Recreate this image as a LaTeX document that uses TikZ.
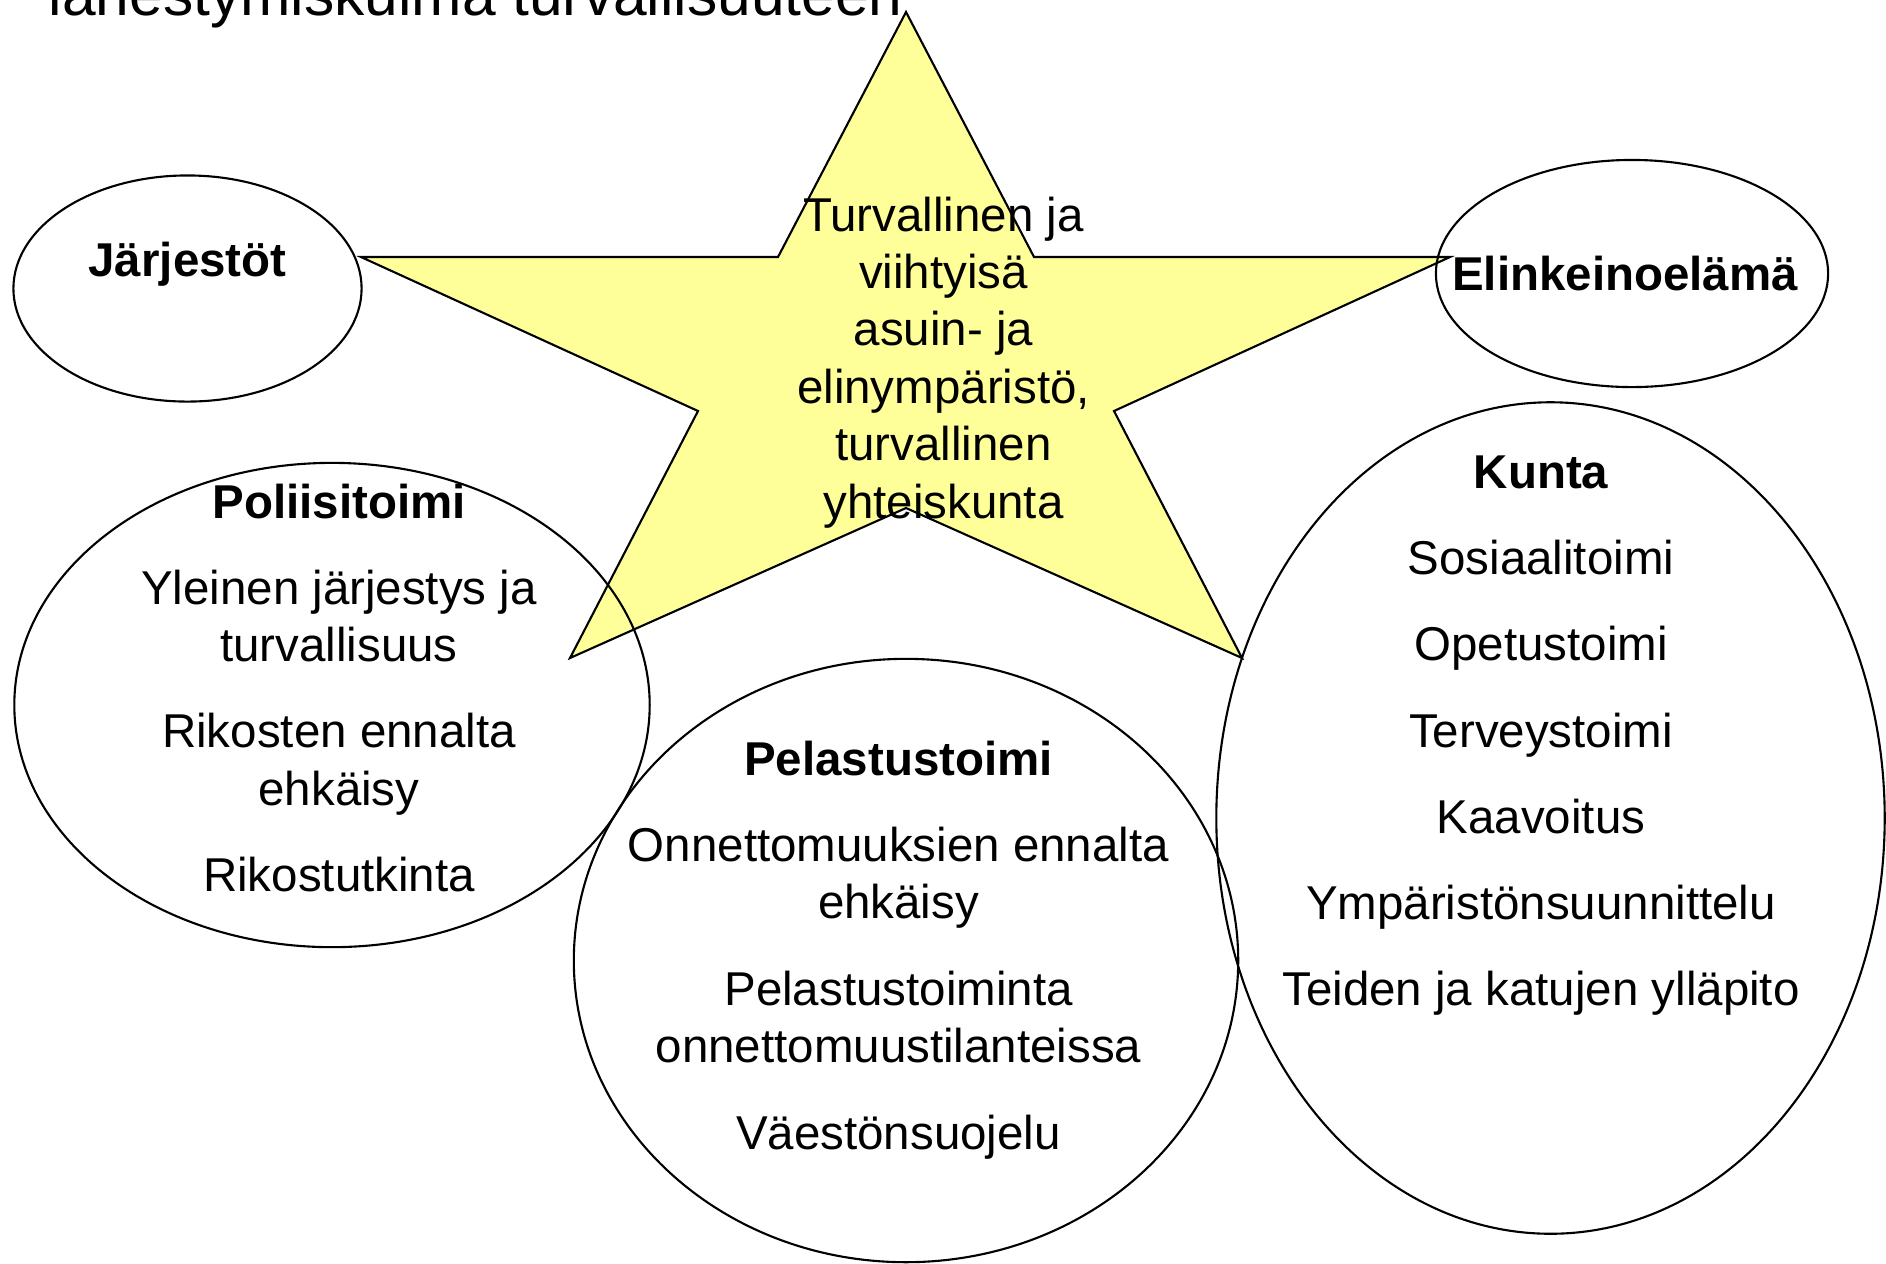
\documentclass[tikz,border=0pt]{standalone}
\usepackage{fontspec}
\setmainfont{Liberation Sans}
\usetikzlibrary{shapes.geometric}
\definecolor{starfill}{RGB}{255,255,153}
\tikzset{
  groupellipse/.style={
    ellipse,
    draw=black, line width=0.6pt,
    inner sep=0pt},
  itemtext/.style={anchor=base, inner sep=0pt,
    font=\fontsize{13.5}{16}\selectfont},
  headtext/.style={anchor=base, inner sep=0pt,
    font=\fontsize{13.5}{16}\selectfont\bfseries},
  titletext/.style={anchor=base west, inner sep=0pt,
    font=\fontsize{17.2}{20}\selectfont},
}

\begin{document}
\begin{tikzpicture}[
    x=0.01cm, y=-0.01cm,
    star line/.style={draw=black, line width=0.6pt, fill=starfill},
    ]
    \useasboundingbox (0,0) rectangle (1886,1263);
    \clip (0,0) rectangle (1886,1263);

    %title, cut off at the top
    \node[titletext] (title) at (48,15) {lähestymiskulma turvallisuuteen};

    %star
    \draw[star line] (906,12) -- (778,257) -- (361,257) -- (698,411)
        -- (570,658) -- (906,508) -- (1242,658) -- (1114,411)
        -- (1450,257) -- (1034,257) -- cycle;

    %groups
    \node[groupellipse, minimum width=3.48cm, minimum height=2.26cm]
        (jarjestot) at (187.5,288.5) {};
    \node[groupellipse, minimum width=3.92cm, minimum height=2.27cm]
        (elinkeino) at (1632,273.5) {};
    \node[groupellipse, minimum width=6.35cm, minimum height=4.84cm]
        (poliisi) at (332,705) {};
    \node[groupellipse, minimum width=6.64cm, minimum height=6.03cm]
        (pelastus) at (906,960.5) {};
    \node[groupellipse, minimum width=6.68cm, minimum height=8.31cm]
        (kunta) at (1550.5,818) {};

    %star text
    \node[itemtext] (goal1) at (943.5,231) {Turvallinen ja};
    \node[itemtext] (goal2) at (943.5,288) {viihtyisä};
    \node[itemtext] (goal3) at (943.5,345.5) {asuin- ja};
    \node[itemtext] (goal4) at (943.5,403) {elinympäristö,};
    \node[itemtext] (goal5) at (943.5,460.5) {turvallinen};
    \node[itemtext] (goal6) at (943.5,518) {yhteiskunta};

    %small groups
    \node[headtext] (jarjestothead) at (187.5,276.5) {Järjestöt};
    \node[headtext] (elinkeinohead) at (1625,290.5) {Elinkeinoelämä};

    %poliisitoimi
    \node[headtext] (poliisihead) at (339,518) {Poliisitoimi};
    \node[itemtext] (poliisi1) at (339,604) {Yleinen järjestys ja};
    \node[itemtext] (poliisi1b) at (339,661) {turvallisuus};
    \node[itemtext] (poliisi2) at (339,747.5) {Rikosten ennalta};
    \node[itemtext] (poliisi2b) at (339,805) {ehkäisy};
    \node[itemtext] (poliisi3) at (339,891.5) {Rikostutkinta};

    %pelastustoimi
    \node[headtext] (pelastushead) at (898.5,775) {Pelastustoimi};
    \node[itemtext] (pelastus1) at (898.5,861.5) {Onnettomuuksien ennalta};
    \node[itemtext] (pelastus1b) at (898.5,918.5) {ehkäisy};
    \node[itemtext] (pelastus2) at (898.5,1005.5) {Pelastustoiminta};
    \node[itemtext] (pelastus2b) at (898.5,1062.5) {onnettomuustilanteissa};
    \node[itemtext] (pelastus3) at (898.5,1149) {Väestönsuojelu};

    %kunta
    \node[headtext] (kuntahead) at (1541,488) {Kunta};
    \node[itemtext] (kunta1) at (1541,574.5) {Sosiaalitoimi};
    \node[itemtext] (kunta2) at (1541,660.5) {Opetustoimi};
    \node[itemtext] (kunta3) at (1541,747) {Terveystoimi};
    \node[itemtext] (kunta4) at (1541,833) {Kaavoitus};
    \node[itemtext] (kunta5) at (1541,919) {Ympäristönsuunnittelu};
    \node[itemtext] (kunta6) at (1541,1005) {Teiden ja katujen ylläpito};

\end{tikzpicture}
\end{document}
